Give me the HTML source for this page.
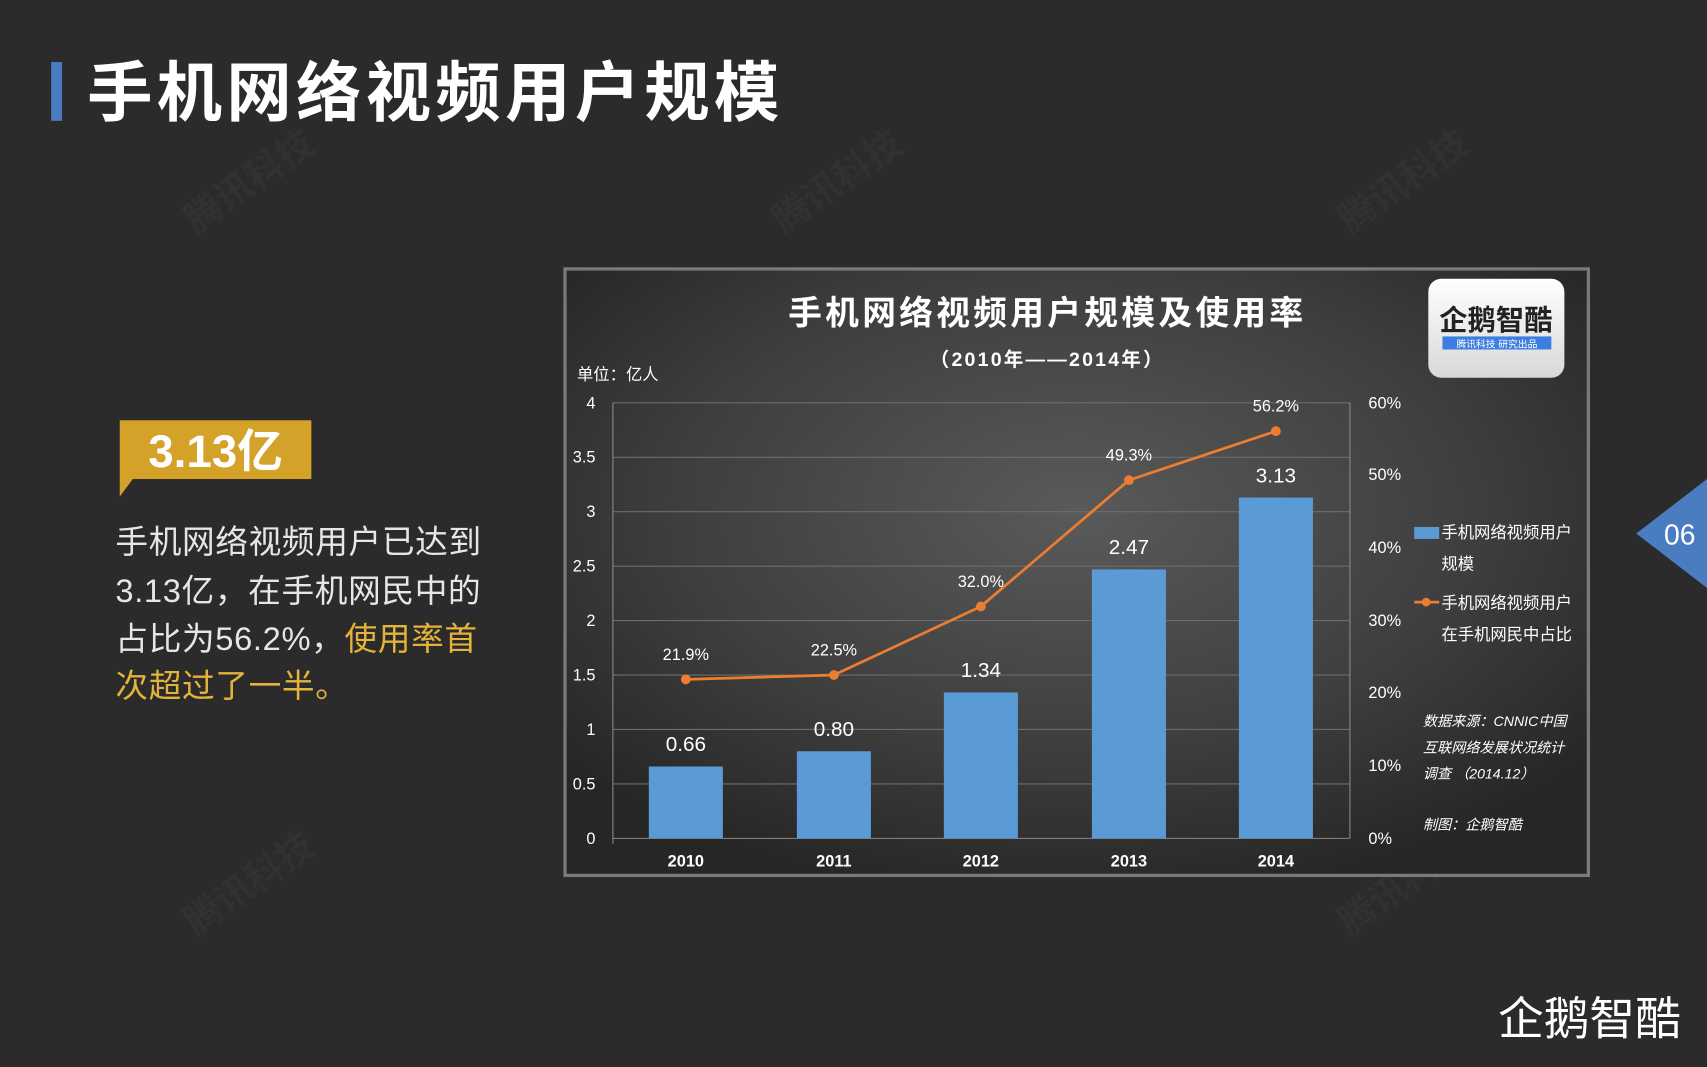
<!DOCTYPE html>
<html><head><meta charset="utf-8"><style>
html,body{margin:0;padding:0;background:#2b2b2b;width:1707px;height:1067px;overflow:hidden}
svg{display:block}
text{font-family:"Liberation Sans","Noto Sans CJK SC",sans-serif}
</style></head><body>
<svg width="1707" height="1067" viewBox="0 0 1568 980" preserveAspectRatio="none" xmlns="http://www.w3.org/2000/svg">
<defs>
<radialGradient id="bg" cx="50%" cy="40%" r="65%">
<stop offset="0" stop-color="#5a5a5a"/><stop offset="0.6" stop-color="#3e3e3e"/><stop offset="1" stop-color="#262626"/>
</radialGradient>
<linearGradient id="lg" x1="0" y1="0" x2="0" y2="1"><stop offset="0" stop-color="#fff"/><stop offset="1" stop-color="#d8d8d8"/></linearGradient>
</defs>
<rect width="1568" height="980" fill="#2b2b2b"/>
<g fill="#313131" font-size="34" font-weight="bold">
<text x="180" y="215" transform="rotate(-35 180 215)">腾讯科技</text>
<text x="720" y="215" transform="rotate(-35 720 215)">腾讯科技</text>
<text x="1240" y="215" transform="rotate(-35 1240 215)">腾讯科技</text>
<text x="180" y="860" transform="rotate(-35 180 860)">腾讯科技</text>
<text x="1240" y="860" transform="rotate(-35 1240 860)">腾讯科技</text>
</g>
<rect x="47" y="57" width="10" height="54" fill="#4a7cc0"/>
<text x="80" y="106" fill="#fff" font-size="60" font-weight="bold" letter-spacing="4">手机网络视频用户规模</text>
<rect x="110" y="386" width="176" height="54" fill="#d4a228"/>
<polygon points="110,440 122,440 110,456" fill="#d4a228"/>
<text x="198" y="429" fill="#fff" font-size="42" font-weight="bold" text-anchor="middle">3.13亿</text>
<g font-size="30" fill="#e6e6e6" letter-spacing="0.6">
<text x="106" y="508">手机网络视频用户已达到</text>
<text x="106" y="553">3.13亿，在手机网民中的</text>
<text x="106" y="597">占比为56.2%，<tspan fill="#e3b33a">使用率首</tspan></text>
<text x="106" y="640" fill="#e3b33a">次超过了一半。</text>
</g>
<rect x="519" y="247" width="940" height="557" fill="url(#bg)" stroke="#7a7a7a" stroke-width="3"/>
<text x="962" y="298" fill="#fff" font-size="31" font-weight="bold" text-anchor="middle" letter-spacing="3">手机网络视频用户规模及使用率</text>
<text x="962" y="336" fill="#fff" font-size="18" font-weight="bold" text-anchor="middle" letter-spacing="2">（2010年——2014年）</text>
<text x="530" y="349" fill="#fff" font-size="15">单位：亿人</text>
<rect x="1312" y="256" width="125" height="91" rx="12" fill="url(#lg)"/>
<text x="1374" y="303" fill="#222" font-size="26" font-weight="bold" text-anchor="middle">企鹅智酷</text>
<rect x="1325" y="309" width="100" height="12" fill="#3b7de0"/>
<text x="1375" y="319" fill="#fff" font-size="9" text-anchor="middle">腾讯科技 研究出品</text>
<g stroke="#6c6c6c" stroke-width="1">
<line x1="563" y1="370" x2="1240" y2="370"/><line x1="563" y1="420" x2="1240" y2="420"/>
<line x1="563" y1="470" x2="1240" y2="470"/><line x1="563" y1="520" x2="1240" y2="520"/>
<line x1="563" y1="570" x2="1240" y2="570"/><line x1="563" y1="620" x2="1240" y2="620"/>
<line x1="563" y1="670" x2="1240" y2="670"/><line x1="563" y1="720" x2="1240" y2="720"/>
<line x1="563" y1="770" x2="1240" y2="770" stroke="#888"/>
<line x1="563" y1="370" x2="563" y2="775" stroke="#888"/>
<line x1="1240" y1="370" x2="1240" y2="770" stroke="#888"/>
</g>
<g fill="#fff" font-size="15" text-anchor="end">
<text x="547" y="375">4</text><text x="547" y="425">3.5</text><text x="547" y="475">3</text>
<text x="547" y="525">2.5</text><text x="547" y="575">2</text><text x="547" y="625">1.5</text>
<text x="547" y="675">1</text><text x="547" y="725">0.5</text><text x="547" y="775">0</text>
</g>
<g fill="#fff" font-size="15">
<text x="1257" y="375">60%</text><text x="1257" y="441">50%</text><text x="1257" y="508">40%</text>
<text x="1257" y="575">30%</text><text x="1257" y="641">20%</text><text x="1257" y="708">10%</text>
<text x="1257" y="775">0%</text>
</g>
<g fill="#5b9bd5">
<rect x="596" y="704" width="68" height="66"/>
<rect x="732" y="690" width="68" height="80"/>
<rect x="867" y="636" width="68" height="134"/>
<rect x="1003" y="523" width="68" height="247"/>
<rect x="1138" y="457" width="68" height="313"/>
</g>
<g fill="#fff" font-size="19" text-anchor="middle">
<text x="630" y="690">0.66</text><text x="766" y="676">0.80</text><text x="901" y="622">1.34</text>
<text x="1037" y="509">2.47</text><text x="1172" y="443">3.13</text>
</g>
<g fill="#fff" font-size="15" font-weight="bold" text-anchor="middle">
<text x="630" y="796">2010</text><text x="766" y="796">2011</text><text x="901" y="796">2012</text>
<text x="1037" y="796">2013</text><text x="1172" y="796">2014</text>
</g>
<polyline points="630,624 766,620 901,557 1037,441 1172,396" fill="none" stroke="#ed7d31" stroke-width="2.5"/>
<g fill="#ed7d31">
<circle cx="630" cy="624" r="4.5"/><circle cx="766" cy="620" r="4.5"/><circle cx="901" cy="557" r="4.5"/>
<circle cx="1037" cy="441" r="4.5"/><circle cx="1172" cy="396" r="4.5"/>
</g>
<g fill="#fff" font-size="15" text-anchor="middle">
<text x="630" y="606">21.9%</text><text x="766" y="602">22.5%</text><text x="901" y="539">32.0%</text>
<text x="1037" y="423">49.3%</text><text x="1172" y="378">56.2%</text>
</g>
<rect x="1299" y="484" width="23" height="11" fill="#5b9bd5"/>
<line x1="1299" y1="553" x2="1322" y2="553" stroke="#ed7d31" stroke-width="2.5"/>
<circle cx="1310" cy="553" r="4" fill="#ed7d31"/>
<g fill="#fff" font-size="15">
<text x="1324" y="494">手机网络视频用户</text><text x="1324" y="523">规模</text>
<text x="1324" y="559">手机网络视频用户</text><text x="1324" y="588">在手机网民中占比</text>
</g>
<g fill="#fff" font-size="13" font-style="italic">
<text x="1307" y="667">数据来源：CNNIC中国</text>
<text x="1307" y="691">互联网络发展状况统计</text>
<text x="1307" y="715">调查 （2014.12）</text>
<text x="1307" y="762">制图：企鹅智酷</text>
</g>
<polygon points="1503,490 1568,440 1568,540" fill="#4a7cc0"/>
<text x="1543" y="500" fill="#fff" font-size="26" text-anchor="middle">06</text>
<text x="1460" y="950" fill="#fff" font-size="42" text-anchor="middle">企鹅智酷</text>
</svg>
</body></html>
